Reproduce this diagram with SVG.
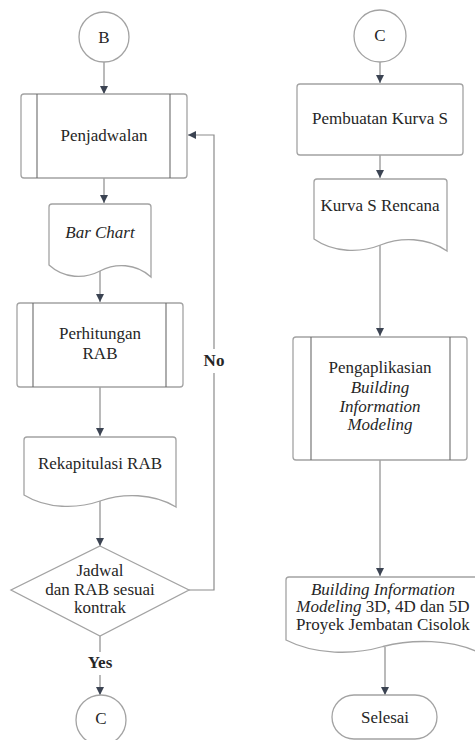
<svg xmlns="http://www.w3.org/2000/svg" width="475" height="740" viewBox="0 0 475 740">
<defs>
<style>
.shape{fill:#ffffff;stroke:#a3a3a3;stroke-width:1.3}
.inner{stroke:#6b6b6b;stroke-width:1.1}
.conn{fill:none;stroke:#8c8c8c;stroke-width:1.2}
.t{font-family:'Liberation Serif',serif;font-size:17px;fill:#262626;text-anchor:middle}
.i{font-style:italic}
.b{font-weight:bold}
</style>
<marker id="ah" viewBox="0 0 10 10" refX="10" refY="5" markerWidth="8" markerHeight="9" markerUnits="userSpaceOnUse" orient="auto">
<path d="M0,0 L10,5 L0,10 Z" fill="#3b4352"/>
</marker>
</defs>
<rect width="475" height="740" fill="#ffffff"/>
<g id="connectors">
<path class="conn" d="M104,62 V94" marker-end="url(#ah)"/>
<path class="conn" d="M104,178 V203" marker-end="url(#ah)"/>
<path class="conn" d="M100,271 V302" marker-end="url(#ah)"/>
<path class="conn" d="M100,387 V436" marker-end="url(#ah)"/>
<path class="conn" d="M100,501 V546" marker-end="url(#ah)"/>
<path class="conn" d="M100,636 V652"/>
<path class="conn" d="M100,675 V695" marker-end="url(#ah)"/>
<path class="conn" d="M189,590 H214 V373"/>
<path class="conn" d="M214,349 V135 H188" marker-end="url(#ah)"/>
<path class="conn" d="M380,62 V83" marker-end="url(#ah)"/>
<path class="conn" d="M380,155 V178" marker-end="url(#ah)"/>
<path class="conn" d="M380,245 V336" marker-end="url(#ah)"/>
<path class="conn" d="M380,460 V576" marker-end="url(#ah)"/>
<path class="conn" d="M385,647 V695" marker-end="url(#ah)"/>
<text class="t b" x="214" y="366">No</text>
<text class="t b" x="100" y="668">Yes</text>
</g>

<g id="start-b">
<circle class="shape" cx="104" cy="37" r="25"/>
<text class="t" x="104" y="43">B</text>
</g>

<g id="penjadwalan">
<rect class="shape" x="21" y="94" width="166" height="84" rx="3"/>
<line class="inner" x1="37" y1="94" x2="37" y2="178"/>
<line class="inner" x1="170" y1="94" x2="170" y2="178"/>
<text class="t" x="104" y="141">Penjadwalan</text>
</g>

<g id="bar-chart">
<path class="shape" d="M49,207 Q49,204 52,204 H148 Q151,204 151,207 V277 C135.7,263 115.3,263 100,271 C84.7,279 64.3,279 49,265 Z"/>
<text class="t i" x="100" y="238">Bar Chart</text>
</g>

<g id="perhitungan">
<rect class="shape" x="17" y="303" width="166" height="84" rx="3"/>
<line class="inner" x1="33" y1="303" x2="33" y2="387"/>
<line class="inner" x1="166" y1="303" x2="166" y2="387"/>
<text class="t" x="100" y="339">Perhitungan</text>
<text class="t" x="100" y="359">RAB</text>
</g>

<g id="rekapitulasi">
<path class="shape" d="M24,440 Q24,437 27,437 H173 Q176,437 176,440 V507 C153.2,493 122.8,493 100,501 C77.2,509 46.8,509 24,495 Z"/>
<text class="t" x="100" y="469">Rekapitulasi RAB</text>
</g>

<g id="decision">
<polygon class="shape" points="100,546 189,590 100,636 11,590"/>
<text class="t" x="100" y="576">Jadwal</text>
<text class="t" x="100" y="595">dan RAB sesuai</text>
<text class="t" x="100" y="613">kontrak</text>
</g>

<g id="end-c">
<circle class="shape" cx="101" cy="720" r="25"/>
<text class="t" x="101" y="724">C</text>
</g>

<g id="start-c">
<circle class="shape" cx="380" cy="36" r="26"/>
<text class="t" x="380" y="41">C</text>
</g>

<g id="pembuatan">
<rect class="shape" x="297" y="84" width="166" height="71" rx="3"/>
<text class="t" x="380" y="124">Pembuatan Kurva S</text>
</g>

<g id="kurva-s">
<path class="shape" d="M314,182 Q314,179 317,179 H444 Q447,179 447,182 V251 C427,237 400.5,237 380.5,245 C360.6,253 334,253 314,239 Z"/>
<text class="t" x="380" y="211">Kurva S Rencana</text>
</g>

<g id="pengaplikasian">
<rect class="shape" x="293" y="337" width="174" height="123" rx="3"/>
<line class="inner" x1="311" y1="337" x2="311" y2="460"/>
<line class="inner" x1="450" y1="337" x2="450" y2="460"/>
<text class="t" x="380" y="373">Pengaplikasian</text>
<text class="t i" x="380" y="393">Building</text>
<text class="t i" x="380" y="412">Information</text>
<text class="t i" x="380" y="430">Modeling</text>
</g>

<g id="bim-output">
<path class="shape" d="M286,580 Q286,577 289,577 H477 Q480,577 480,580 V653 C450.9,639 412.1,639 383,646.5 C353.9,655 315.1,655 286,640 Z"/>
<text class="t i" x="383" y="595">Building Information</text>
<text class="t" x="383" y="612"><tspan class="i">Modeling</tspan> 3D, 4D dan 5D</text>
<text class="t" x="383" y="630">Proyek Jembatan Cisolok</text>
</g>

<g id="selesai">
<rect class="shape" x="332" y="695" width="105" height="44" rx="22"/>
<text class="t" x="385" y="723">Selesai</text>
</g>
</svg>
